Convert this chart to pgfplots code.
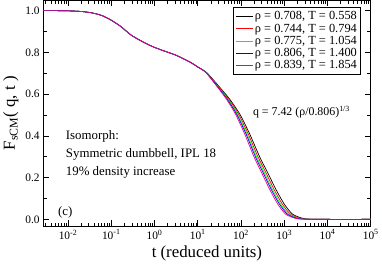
\documentclass[border=0pt]{standalone}
\usepackage{fontspec}
\setmainfont{Liberation Serif}
\usepackage{pgfplots}
\pgfplotsset{compat=1.18}
\begin{document}
\begin{tikzpicture}
\begin{axis}[
  scale only axis, width=330.8pt, height=228pt,
  xmode=log, xmin=0.00265, xmax=100000, ymin=-0.033, ymax=1.049,
  ytick={0,0.2,0.4,0.6,0.8,1.0},
  yticklabels={0.0,0.2,0.4,0.6,0.8,1.0},
  minor ytick={0.1,0.3,0.5,0.7,0.9},
  xtick={0.01,0.1,1,10,100,1000,10000,100000},
  xticklabels={10\textsuperscript{-2},10\textsuperscript{-1},10\textsuperscript{0},10\textsuperscript{1},10\textsuperscript{2},10\textsuperscript{3},10\textsuperscript{4},10\textsuperscript{5}},
  minor xtick={0.003,0.004,0.005,0.006,0.007,0.008,0.009,
    0.02,0.03,0.04,0.05,0.06,0.07,0.08,0.09,
    0.2,0.3,0.4,0.5,0.6,0.7,0.8,0.9,
    2,3,4,5,6,7,8,9,
    20,30,40,50,60,70,80,90,
    200,300,400,500,600,700,800,900,
    2000,3000,4000,5000,6000,7000,8000,9000,
    20000,30000,40000,50000,60000,70000,80000,90000},
  tick align=inside,
  major tick length=6pt, minor tick length=3.5pt,
  tick style={black, line width=0.6pt},
  axis line style={line width=0.8pt},
  ticklabel style={font=\fontsize{11.5}{13}\selectfont},
  xlabel={t (reduced units)},
  ylabel={F\textsubscript{sCM}( q, t )},
  label style={font=\fontsize{17}{20}\selectfont},
  legend style={at={(0.971,0.969)}, anchor=north east, draw=black, line width=0.8pt,
    font=\fontsize{12.5}{14}\selectfont, inner sep=2pt, row sep=-1.5pt},
  legend cell align=left,
  legend image code/.code={\draw[#1] (0pt,0pt) -- (17pt,0pt);},
]
\addplot[black, line width=0.7pt, smooth, tension=0.4] coordinates {
(0.00265,1.000)(0.005,1.000)(0.01,0.999)(0.02,0.996)(0.034,0.990)(0.058,0.978)(0.098,0.955)(0.166,0.924)(0.282,0.884)(0.478,0.856)(0.81,0.832)(1.37,0.813)(3.16,0.786)(6.67,0.753)(10,0.730)
(16.1,0.703)(32.4,0.632)(55,0.575)(93.3,0.505)(158,0.41)(269,0.30)(417,0.222)(646,0.142)(1000,0.073)(1549,0.025)(2630,0.005)(3981,0.001)(10000,0)(100000,0)};
\addlegendentry{ρ = 0.708, T = 0.558}
\addplot[red, line width=0.7pt, smooth, tension=0.4] coordinates {
(0.00265,1.000)(0.005,1.000)(0.01,0.999)(0.02,0.996)(0.034,0.990)(0.058,0.978)(0.098,0.955)(0.166,0.924)(0.282,0.884)(0.478,0.856)(0.81,0.832)(1.37,0.813)(3.16,0.786)(6.67,0.753)(10,0.730)
(15.9,0.703)(31.3,0.632)(52.2,0.575)(87.0,0.505)(146,0.41)(246,0.30)(379,0.222)(585,0.142)(902,0.073)(1386,0.025)(2338,0.005)(3539,0.001)(10000,0)(100000,0)};
\addlegendentry{ρ = 0.744, T = 0.794}
\addplot[green, line width=0.7pt, smooth, tension=0.4] coordinates {
(0.00265,1.000)(0.005,1.000)(0.01,0.999)(0.02,0.996)(0.034,0.990)(0.058,0.978)(0.098,0.955)(0.166,0.924)(0.282,0.884)(0.478,0.856)(0.81,0.832)(1.37,0.813)(3.16,0.786)(6.67,0.753)(10,0.730)
(15.7,0.703)(30.4,0.632)(50.1,0.575)(82.2,0.505)(137,0.41)(228,0.30)(349,0.222)(537,0.142)(827,0.073)(1265,0.025)(2120,0.005)(3209,0.001)(10000,0)(100000,0)};
\addlegendentry{ρ = 0.775, T = 1.054}
\addplot[blue, line width=0.7pt, smooth, tension=0.4] coordinates {
(0.00265,1.000)(0.005,1.000)(0.01,0.999)(0.02,0.996)(0.034,0.990)(0.058,0.978)(0.098,0.955)(0.166,0.924)(0.282,0.884)(0.478,0.856)(0.81,0.832)(1.37,0.813)(3.16,0.786)(6.67,0.753)(10,0.730)
(15.6,0.703)(29.7,0.632)(48.3,0.575)(78.5,0.505)(130,0.41)(215,0.30)(327,0.222)(503,0.142)(772,0.073)(1176,0.025)(1962,0.005)(2970,0.001)(10000,0)(100000,0)};
\addlegendentry{ρ = 0.806, T = 1.400}
\addplot[magenta, line width=0.7pt, smooth, tension=0.4] coordinates {
(0.00265,1.000)(0.005,1.000)(0.01,0.999)(0.02,0.996)(0.034,0.990)(0.058,0.978)(0.098,0.955)(0.166,0.924)(0.282,0.884)(0.478,0.856)(0.81,0.832)(1.37,0.813)(3.16,0.786)(6.67,0.753)(10,0.730)
(15.4,0.703)(28.9,0.632)(46.3,0.575)(74.1,0.505)(121,0.41)(199,0.30)(302,0.222)(463,0.142)(708,0.073)(1072,0.025)(1778,0.005)(2691,0.001)(10000,0)(100000,0)};
\addlegendentry{ρ = 0.839, T = 1.854}
\node[anchor=base west, font=\fontsize{12}{14}\selectfont] at (rel axis cs:0.63,0.491) {q = 7.42 (ρ/0.806)\textsuperscript{1/3}};
\node[anchor=base west, font=\fontsize{13}{15}\selectfont] at (rel axis cs:0.059,0.382) {Isomorph:};
\node[anchor=base west, font=\fontsize{13}{15}\selectfont] at (rel axis cs:0.059,0.303) {Symmetric dumbbell, IPL 18};
\node[anchor=base west, font=\fontsize{13}{15}\selectfont] at (rel axis cs:0.059,0.224) {19\% density increase};
\node[anchor=base west, font=\fontsize{13}{15}\selectfont] at (rel axis cs:0.035,0.048) {(c)};
\end{axis}
\end{tikzpicture}
\end{document}
